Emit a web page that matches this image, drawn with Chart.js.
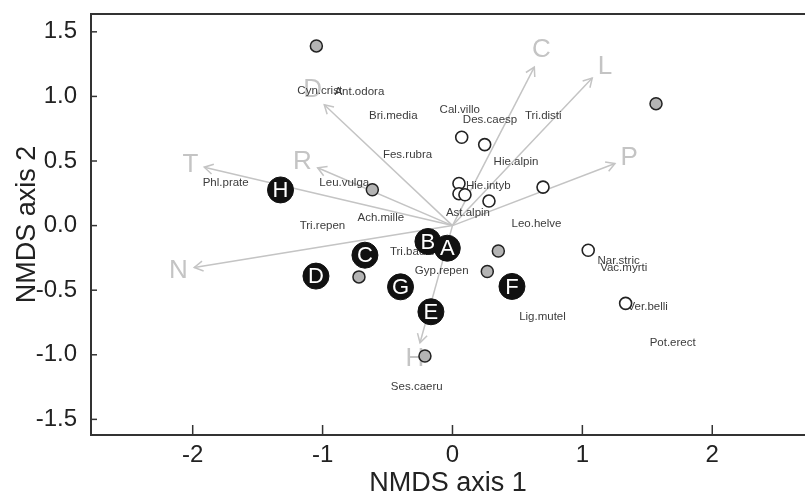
<!DOCTYPE html>
<html><head><meta charset="utf-8">
<script src="https://cdn.jsdelivr.net/npm/chart.js@4/dist/chart.umd.min.js"></script>
<style>html,body{margin:0;padding:0;background:#fff;overflow:hidden}#wrap{width:805px;height:497px;position:relative}</style>
</head><body><div id="wrap"><canvas id="c" width="805" height="497"></canvas></div>
<script>
// Site groups (black labelled circles)
const siteLabels = ['H','C','D','G','E','B','A','F'];
const siteX = [-1.324,-0.674,-1.051,-0.400,-0.166,-0.189,-0.040,0.458];
const siteY = [0.276,-0.229,-0.391,-0.474,-0.667,-0.123,-0.175,-0.471];
// grey plots
const grayX = [-1.048,1.567,-0.617,-0.720,0.353,0.268,-0.212];
const grayY = [1.391,0.944,0.278,-0.397,-0.196,-0.355,-1.010];
// open plots
const whiteX = [0.071,0.248,0.050,0.050,0.096,0.281,0.697,1.045,1.333];
const whiteY = [0.684,0.627,0.326,0.247,0.239,0.190,0.298,-0.191,-0.602];
// environmental vectors
const vecNames = ['C','L','P','D','T','R','N','H'];
const vecX = [0.630,1.076,1.251,-0.987,-1.911,-1.038,-1.988,-0.250];
const vecY = [1.227,1.142,0.481,0.936,0.452,0.448,-0.324,-0.907];
const vecLabX = [0.685,1.174,1.361,-1.076,-2.018,-1.156,-2.111,-0.289];
const vecLabY = [1.360,1.232,0.525,1.052,0.473,0.491,-0.350,-1.032];
// species
const spNames = ['Cyn.crist','Ant.odora','Bri.media','Fes.rubra','Phl.prate','Leu.vulga','Cal.villo','Des.caesp','Tri.disti','Hie.alpin','Hie.intyb','Ast.alpin','Leo.helve','Ach.mille','Tri.repen','Tri.badiu','Gyp.repen','Lig.mutel','Nar.stric','Vac.myrti','Ver.belli','Pot.erect','Ses.caeru'];
const spX = [-1.022,-0.717,-0.456,-0.346,-1.746,-0.833,0.056,0.289,0.699,0.489,0.276,0.119,0.647,-0.552,-1.001,-0.311,-0.083,0.693,1.279,1.318,1.503,1.695,-0.275];
const spY = [1.044,1.034,0.851,0.545,0.329,0.332,0.897,0.820,0.851,0.496,0.311,0.095,0.015,0.062,0.002,-0.204,-0.353,-0.710,-0.273,-0.324,-0.626,-0.908,-1.250];
// axes
const xTicks = [-2,-1,0,1,2];
const yTicks = [-1.5,-1.0,-0.5,0.0,0.5,1.0,1.5];
const xTitle = 'NMDS axis 1';
const yTitle = 'NMDS axis 2';

const FONT = "'Liberation Sans', Arial, Helvetica, sans-serif";
const pts = (xs, ys) => xs.map((x, i) => ({x, y: ys[i]}));

const overlay = {
  id: 'overlay',
  beforeDatasetsDraw(chart) {
    const {ctx, scales: {x, y}} = chart;
    const ox = x.getPixelForValue(0), oy = y.getPixelForValue(0);
    ctx.save();
    ctx.strokeStyle = '#c4c4c4';
    ctx.lineWidth = 1.5;
    vecNames.forEach((n, i) => {
      const tx = x.getPixelForValue(vecX[i]), ty = y.getPixelForValue(vecY[i]);
      ctx.beginPath(); ctx.moveTo(ox, oy); ctx.lineTo(tx, ty); ctx.stroke();
      const a = Math.atan2(ty - oy, tx - ox), L = 10, w = Math.PI / 6;
      ctx.beginPath();
      ctx.moveTo(tx - L * Math.cos(a - w), ty - L * Math.sin(a - w));
      ctx.lineTo(tx, ty);
      ctx.lineTo(tx - L * Math.cos(a + w), ty - L * Math.sin(a + w));
      ctx.stroke();
    });
    ctx.fillStyle = '#c4c4c4';
    ctx.font = '26px ' + FONT;
    ctx.textAlign = 'center'; ctx.textBaseline = 'middle';
    vecNames.forEach((n, i) => {
      ctx.fillText(n, x.getPixelForValue(vecLabX[i]), y.getPixelForValue(vecLabY[i]));
    });
    ctx.fillStyle = '#3c3c3c';
    ctx.font = '11.5px ' + FONT;
    spNames.forEach((n, i) => {
      ctx.fillText(n, x.getPixelForValue(spX[i]), y.getPixelForValue(spY[i]));
    });
    ctx.restore();
  },
  afterDatasetsDraw(chart) {
    const {ctx, scales: {x, y}} = chart;
    ctx.save();
    ctx.fillStyle = '#fff';
    ctx.font = '22px ' + FONT;
    ctx.textAlign = 'center'; ctx.textBaseline = 'middle';
    siteLabels.forEach((n, i) => {
      ctx.fillText(n, x.getPixelForValue(siteX[i]), y.getPixelForValue(siteY[i]) + 1);
    });
    ctx.restore();
  },
  afterDraw(chart) {
    const {ctx, chartArea: ca, scales: {x, y}} = chart;
    ctx.save();
    ctx.strokeStyle = '#333';
    ctx.lineWidth = 2;
    ctx.beginPath();
    ctx.moveTo(ca.right + 2, ca.top);
    ctx.lineTo(ca.left, ca.top);
    ctx.lineTo(ca.left, ca.bottom);
    ctx.lineTo(ca.right + 2, ca.bottom);
    ctx.stroke();
    ctx.lineWidth = 1.5;
    xTicks.forEach(v => {
      const px = x.getPixelForValue(v);
      ctx.beginPath(); ctx.moveTo(px, ca.bottom); ctx.lineTo(px, ca.bottom - 10); ctx.stroke();
    });
    yTicks.forEach(v => {
      const py = y.getPixelForValue(v);
      ctx.beginPath(); ctx.moveTo(ca.left, py); ctx.lineTo(ca.left + 6, py); ctx.stroke();
    });
    ctx.restore();
  }
};

const noPad = s => { s.paddingTop = 0; s.paddingBottom = 0; s.paddingLeft = 0; s.paddingRight = 0; };

new Chart(document.getElementById('c'), {
  type: 'scatter',
  data: {
    datasets: [
      {data: pts(grayX, grayY), pointRadius: 6, pointBackgroundColor: '#b4b4b4', pointBorderColor: '#222', pointBorderWidth: 1.5},
      {data: pts(whiteX, whiteY), pointRadius: 6, pointBackgroundColor: '#fff', pointBorderColor: '#222', pointBorderWidth: 1.6},
      {data: pts(siteX, siteY), pointRadius: 13, pointBackgroundColor: '#111', pointBorderColor: '#111', pointBorderWidth: 1}
    ]
  },
  options: {
    responsive: false,
    animation: false,
    devicePixelRatio: 1,
    layout: {autoPadding: false, padding: {top: 14, right: 0, left: 0, bottom: 0}},
    plugins: {legend: {display: false}, tooltip: {enabled: false}},
    scales: {
      x: {
        type: 'linear', min: -2.783, max: 2.714,
        afterBuildTicks: s => { s.ticks = xTicks.map(v => ({value: v})); },
        afterFit: s => { s.height = 62; noPad(s); },
        grid: {display: false, drawTicks: false},
        border: {display: false},
        ticks: {padding: 6, color: '#222', font: {family: FONT, size: 24}, callback: v => String(v)},
        title: {display: true, text: xTitle, color: '#222', font: {family: FONT, size: 27, lineHeight: 1}, padding: 0}
      },
      y: {
        type: 'linear', min: -1.621, max: 1.638,
        afterBuildTicks: s => { s.ticks = yTicks.map(v => ({value: v})); },
        afterFit: s => { s.width = 91; noPad(s); },
        grid: {display: false, drawTicks: false},
        border: {display: false},
        ticks: {padding: 14, color: '#222', font: {family: FONT, size: 24}, callback: v => Number(v).toFixed(1)},
        title: {display: true, text: yTitle, color: '#222', font: {family: FONT, size: 27, lineHeight: 1}, padding: {top: 14, bottom: 0}}
      }
    }
  },
  plugins: [overlay]
});
</script>
</body></html>
